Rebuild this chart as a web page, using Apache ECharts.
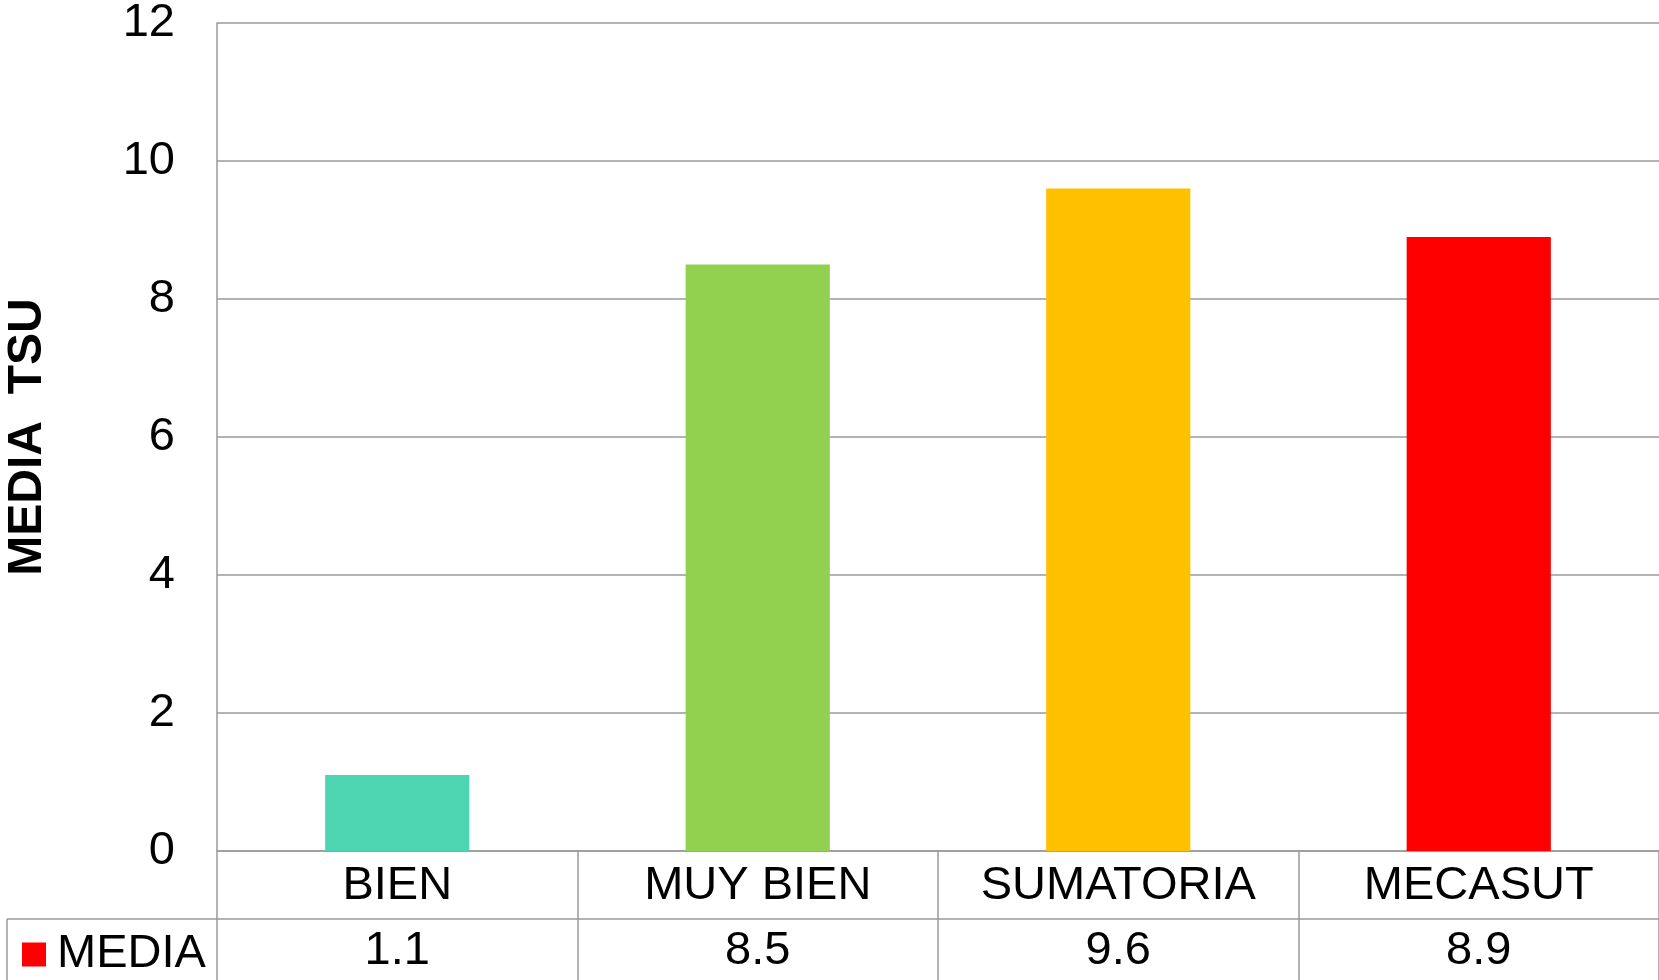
<!DOCTYPE html>
<html>
<head>
<meta charset="utf-8">
<title>MEDIA TSU</title>
<script src="https://cdn.jsdelivr.net/npm/echarts@6/dist/echarts.min.js"></script>
<style>
  html, body { margin: 0; padding: 0; background: #fff; }
  #chart { width: 1659px; height: 980px; }
</style>
</head>
<body>
<div id="chart"></div>
<script>
  var categories = ['BIEN', 'MUY BIEN', 'SUMATORIA', 'MECASUT']
  var mediaValues = [1.1, 8.5, 9.6, 8.9]
  var barColors = ['#4DD5B1', '#92D050', '#FFC000', '#FF0000']
  var yTicks = [0, 2, 4, 6, 8, 10, 12]

  var font = 'Liberation Sans, Arial, sans-serif'
  var lineColor = '#9a9a9a'

  var chart = echarts.init(document.getElementById('chart'))
  chart.setOption({
    animation: false,
    textStyle: { fontFamily: font },
    grid: { left: 217, right: 0, top: 23, bottom: 129, outerBoundsMode: 'none' },
    legend: {
      data: ['MEDIA'],
      left: 17,
      top: 926,
      icon: 'rect',
      itemWidth: 24,
      itemHeight: 24,
      textStyle: { fontSize: 47, color: '#000', fontFamily: font, padding: [0, 0, 0, 6] }
    },
    xAxis: [
      {
        type: 'category',
        data: categories,
        axisLine: { lineStyle: { color: lineColor, width: 1.5 } },
        axisTick: { show: true, interval: 0, length: 68, lineStyle: { color: lineColor, width: 1.5 } },
        axisLabel: { interval: 0, fontSize: 47, color: '#000', margin: 12 }
      },
      {
        type: 'category',
        position: 'bottom',
        offset: 68,
        data: mediaValues.map(function (v) { return v.toFixed(1) }),
        axisLine: { lineStyle: { color: lineColor, width: 1.5 } },
        axisTick: { show: true, interval: 0, length: 70, lineStyle: { color: lineColor, width: 1.5 } },
        axisLabel: { interval: 0, fontSize: 47, color: '#000', margin: 9 }
      }
    ],
    yAxis: {
      type: 'value',
      min: yTicks[0],
      max: yTicks[yTicks.length - 1],
      interval: 2,
      name: 'MEDIA  TSU',
      nameLocation: 'middle',
      nameGap: 165,
      nameTextStyle: { fontSize: 48, fontWeight: 'bold', color: '#000' },
      axisLine: { show: true, lineStyle: { color: lineColor, width: 1.5 } },
      axisTick: { show: false },
      axisLabel: { fontSize: 47, color: '#000', margin: 42 },
      splitLine: { lineStyle: { color: lineColor, width: 1.5 } }
    },
    graphic: [
      // borders of the legend cell in the data table
      { type: 'line', shape: { x1: 7, y1: 919, x2: 217, y2: 919 }, style: { stroke: lineColor, lineWidth: 1.5 } },
      { type: 'line', shape: { x1: 7, y1: 919, x2: 7, y2: 980 }, style: { stroke: lineColor, lineWidth: 1.5 } }
    ],
    series: [{
      name: 'MEDIA',
      type: 'bar',
      xAxisIndex: 0,
      barWidth: '40%',
      itemStyle: { color: '#FF0000' },
      data: mediaValues.map(function (v, i) {
        return { value: v, itemStyle: { color: barColors[i] } }
      })
    }]
  })
</script>
</body>
</html>
